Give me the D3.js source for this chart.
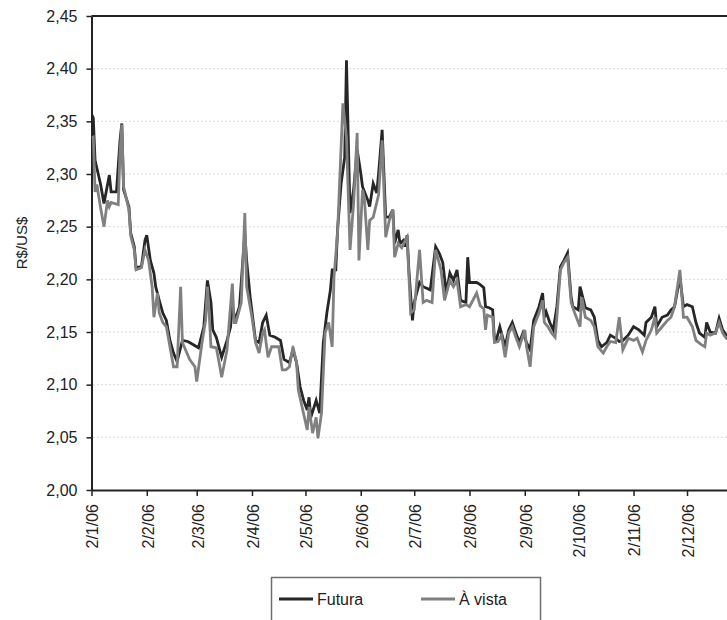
<!DOCTYPE html>
<html><head><meta charset="utf-8">
<script src="https://cdn.jsdelivr.net/npm/d3@7"></script>
<style>body{margin:0;background:#fff}svg{display:block}text{font-family:"Liberation Sans",Arial,sans-serif;fill:#222}</style>
</head><body><svg id="c" width="727" height="620"></svg>
<script>
const seriesNames = ["Futura", "À vista"];
const seriesColors = ["#262626", "#808080"];

const futuraDates = ["2006-01-02","2006-01-03","2006-01-04","2006-01-07","2006-01-09","2006-01-12","2006-01-13","2006-01-16","2006-01-18","2006-01-19","2006-01-20","2006-01-23","2006-01-24","2006-01-26","2006-01-27","2006-01-30",
"2006-02-01","2006-02-02","2006-02-04","2006-02-06","2006-02-07","2006-02-09","2006-02-11","2006-02-13","2006-02-15","2006-02-17","2006-02-19","2006-02-22","2006-02-25","2006-02-26",
"2006-03-03","2006-03-06","2006-03-08","2006-03-10","2006-03-11","2006-03-13","2006-03-16","2006-03-19","2006-03-21","2006-03-22","2006-03-23","2006-03-24","2006-03-26","2006-03-29","2006-03-30",
"2006-04-01","2006-04-04","2006-04-06","2006-04-08","2006-04-10","2006-04-12","2006-04-15","2006-04-18","2006-04-20","2006-04-23","2006-04-25","2006-04-27","2006-04-29",
"2006-05-01","2006-05-03","2006-05-04","2006-05-05","2006-05-08","2006-05-10","2006-05-12","2006-05-14","2006-05-16","2006-05-17","2006-05-19","2006-05-20","2006-05-22","2006-05-24","2006-05-25","2006-05-27","2006-05-29","2006-05-31",
"2006-06-02","2006-06-03","2006-06-06","2006-06-07","2006-06-09","2006-06-11","2006-06-12","2006-06-14","2006-06-16","2006-06-18","2006-06-20","2006-06-21","2006-06-23","2006-06-24","2006-06-26","2006-06-27","2006-06-28","2006-06-29",
"2006-07-01","2006-07-02","2006-07-05","2006-07-07","2006-07-11","2006-07-14","2006-07-16","2006-07-18","2006-07-20","2006-07-22","2006-07-24","2006-07-26","2006-07-28","2006-07-31",
"2006-08-01","2006-08-02","2006-08-06","2006-08-08","2006-08-10","2006-08-11","2006-08-13","2006-08-15","2006-08-16","2006-08-17","2006-08-19","2006-08-22","2006-08-24","2006-08-26","2006-08-28","2006-08-30",
"2006-09-01","2006-09-03","2006-09-05","2006-09-07","2006-09-10","2006-09-12","2006-09-13","2006-09-14","2006-09-16","2006-09-18","2006-09-20","2006-09-22","2006-09-24","2006-09-26","2006-09-28","2006-09-29",
"2006-10-02","2006-10-03","2006-10-06","2006-10-09","2006-10-11","2006-10-13","2006-10-15","2006-10-18","2006-10-20","2006-10-23","2006-10-25","2006-10-27","2006-10-30",
"2006-11-02","2006-11-05","2006-11-08","2006-11-09","2006-11-12","2006-11-14","2006-11-15","2006-11-18","2006-11-21","2006-11-23","2006-11-25","2006-11-28","2006-11-30",
"2006-12-02","2006-12-05","2006-12-07","2006-12-09","2006-12-12","2006-12-13","2006-12-15","2006-12-18","2006-12-20","2006-12-22","2006-12-24","2006-12-27"];
const futuraValues = [2.357,2.353,2.313,2.291,2.272,2.299,2.283,2.283,2.332,2.348,2.285,2.269,2.244,2.231,2.211,2.212,
2.237,2.242,2.218,2.206,2.193,2.180,2.168,2.161,2.142,2.130,2.122,2.142,2.141,2.140,
2.135,2.155,2.199,2.178,2.152,2.145,2.126,2.142,2.155,2.175,2.166,2.164,2.174,2.244,2.218,
2.183,2.142,2.140,2.159,2.166,2.147,2.145,2.142,2.124,2.121,2.133,2.121,2.098,
2.085,2.076,2.088,2.069,2.085,2.073,2.140,2.168,2.190,2.209,2.209,2.247,2.291,2.316,2.408,2.263,2.285,2.323,
2.301,2.288,2.275,2.269,2.291,2.282,2.300,2.342,2.259,2.259,2.266,2.234,2.247,2.234,2.237,2.231,2.242,2.209,
2.161,2.178,2.197,2.193,2.190,2.231,2.225,2.216,2.187,2.206,2.199,2.209,2.180,2.178,
2.221,2.197,2.197,2.195,2.192,2.174,2.173,2.171,2.142,2.142,2.155,2.136,2.152,2.159,2.149,2.140,
2.149,2.140,2.133,2.161,2.174,2.187,2.164,2.169,2.159,2.152,2.174,2.212,2.218,2.225,2.183,2.174,
2.171,2.193,2.173,2.171,2.164,2.142,2.136,2.140,2.147,2.144,2.141,2.142,2.147,
2.155,2.152,2.147,2.159,2.164,2.174,2.155,2.164,2.166,2.171,2.174,2.202,2.174,
2.176,2.174,2.159,2.149,2.145,2.159,2.150,2.149,2.163,2.152,2.147,2.146];

const vistaDates = ["2006-01-02","2006-01-03","2006-01-04","2006-01-05","2006-01-07","2006-01-09","2006-01-11","2006-01-12","2006-01-13","2006-01-17","2006-01-18","2006-01-19","2006-01-20","2006-01-23","2006-01-24","2006-01-26","2006-01-27","2006-01-30",
"2006-02-01","2006-02-03","2006-02-05","2006-02-06","2006-02-08","2006-02-09","2006-02-11","2006-02-13","2006-02-15","2006-02-17","2006-02-19","2006-02-21","2006-02-22","2006-02-26",
"2006-03-01","2006-03-02","2006-03-05","2006-03-07","2006-03-08","2006-03-09","2006-03-10","2006-03-13","2006-03-15","2006-03-16","2006-03-19","2006-03-22","2006-03-23","2006-03-24","2006-03-27","2006-03-29","2006-03-30",
"2006-04-02","2006-04-04","2006-04-06","2006-04-08","2006-04-09","2006-04-11","2006-04-13","2006-04-17","2006-04-19","2006-04-21","2006-04-23","2006-04-25","2006-04-27","2006-04-28",
"2006-05-03","2006-05-04","2006-05-06","2006-05-08","2006-05-09","2006-05-11","2006-05-13","2006-05-15","2006-05-17","2006-05-18","2006-05-20","2006-05-21","2006-05-23","2006-05-25","2006-05-27","2006-05-29","2006-05-31",
"2006-06-01","2006-06-03","2006-06-04","2006-06-06","2006-06-07","2006-06-09","2006-06-12","2006-06-14","2006-06-16","2006-06-18","2006-06-20","2006-06-21","2006-06-23","2006-06-25","2006-06-27","2006-06-28","2006-06-30",
"2006-07-02","2006-07-05","2006-07-07","2006-07-09","2006-07-12","2006-07-14","2006-07-17","2006-07-19","2006-07-22","2006-07-24","2006-07-26","2006-07-28","2006-07-31",
"2006-08-02","2006-08-06","2006-08-08","2006-08-10","2006-08-11","2006-08-12","2006-08-15","2006-08-16","2006-08-18","2006-08-20","2006-08-22","2006-08-24","2006-08-26","2006-08-28","2006-08-30",
"2006-09-02","2006-09-03","2006-09-05","2006-09-07","2006-09-10","2006-09-12","2006-09-13","2006-09-15","2006-09-17","2006-09-19","2006-09-20","2006-09-22","2006-09-24","2006-09-26","2006-09-28","2006-09-30",
"2006-10-03","2006-10-04","2006-10-06","2006-10-09","2006-10-11","2006-10-13","2006-10-16","2006-10-18","2006-10-20","2006-10-23","2006-10-25","2006-10-27","2006-10-30",
"2006-11-02","2006-11-04","2006-11-07","2006-11-09","2006-11-12","2006-11-14","2006-11-15","2006-11-18","2006-11-21","2006-11-23","2006-11-25","2006-11-28","2006-11-30",
"2006-12-02","2006-12-05","2006-12-07","2006-12-10","2006-12-12","2006-12-13","2006-12-15","2006-12-18","2006-12-20","2006-12-22","2006-12-24","2006-12-27"];
const vistaValues = [2.334,2.335,2.283,2.290,2.269,2.250,2.275,2.269,2.273,2.271,2.320,2.347,2.288,2.266,2.241,2.228,2.209,2.211,
2.228,2.218,2.193,2.164,2.187,2.168,2.159,2.155,2.136,2.117,2.117,2.193,2.140,2.124,
2.117,2.103,2.140,2.161,2.193,2.168,2.136,2.135,2.117,2.107,2.133,2.196,2.159,2.159,2.178,2.263,2.193,
2.164,2.140,2.130,2.149,2.152,2.126,2.136,2.136,2.114,2.114,2.117,2.136,2.121,2.095,
2.057,2.079,2.054,2.069,2.049,2.073,2.149,2.159,2.136,2.202,2.244,2.285,2.367,2.335,2.228,2.272,2.339,
2.218,2.285,2.278,2.228,2.256,2.259,2.280,2.332,2.240,2.256,2.266,2.221,2.234,2.230,2.237,2.240,2.168,
2.171,2.228,2.178,2.180,2.178,2.228,2.209,2.180,2.199,2.193,2.199,2.174,2.176,
2.174,2.187,2.175,2.172,2.152,2.166,2.164,2.140,2.141,2.147,2.126,2.149,2.155,2.145,2.136,
2.152,2.136,2.117,2.155,2.168,2.180,2.159,2.155,2.149,2.145,2.164,2.209,2.216,2.221,2.178,2.168,
2.155,2.183,2.164,2.161,2.155,2.136,2.130,2.136,2.141,2.140,2.164,2.133,2.144,
2.142,2.144,2.131,2.142,2.152,2.164,2.149,2.155,2.161,2.164,2.174,2.209,2.164,
2.164,2.155,2.142,2.138,2.136,2.149,2.147,2.149,2.159,2.149,2.144,2.143];

const yTicks = [2.00, 2.05, 2.10, 2.15, 2.20, 2.25, 2.30, 2.35, 2.40, 2.45];
const xTickDates = ["2006-01-02","2006-02-02","2006-03-02","2006-04-02","2006-05-02","2006-06-02","2006-07-02","2006-08-02","2006-09-02","2006-10-02","2006-11-02","2006-12-02"];
const yAxisTitle = "R$/US$";

const W = 727, H = 620, L = 91.5, T = 16, B = 490;
const parse = d3.timeParse("%Y-%m-%d");
const x = d3.scaleTime().domain([parse("2006-01-02"), parse("2007-01-02")]).range([L, L + 365 * 1.783]);
const y = d3.scaleLinear().domain([2.00, 2.45]).range([B, T]);
const svg = d3.select("#c");

svg.append("defs").append("clipPath").attr("id", "pc")
  .append("rect").attr("x", L).attr("y", 0).attr("width", W - L).attr("height", B + 4);

// gridlines
svg.append("g").selectAll("line").data(yTicks.filter(v => v > 2.001 && v < 2.449)).join("line")
  .attr("x1", L + 2).attr("x2", W).attr("y1", d => y(d)).attr("y2", d => y(d))
  .attr("stroke", "#b8b8b8").attr("stroke-width", 1).attr("stroke-dasharray", "1,3");

// top border
svg.append("line").attr("x1", L).attr("x2", W).attr("y1", T).attr("y2", T)
  .attr("stroke", "#222").attr("stroke-width", 2);

const fmtY = d => d3.format(".2f")(d).replace(".", ",");
const yAxis = svg.append("g").attr("transform", `translate(${L},0)`)
  .call(d3.axisLeft(y).tickValues(yTicks).tickFormat(fmtY).tickSize(5).tickSizeOuter(0).tickPadding(9));
yAxis.selectAll("text").attr("font-size", 16).attr("fill", "#222");
yAxis.select(".domain").attr("stroke", "#222").attr("stroke-width", 2);
yAxis.selectAll(".tick line").attr("stroke", "#222").attr("stroke-width", 1.5);

const fmtX = d => `${d.getDate()}/${d.getMonth() + 1}/${String(d.getFullYear() % 100).padStart(2, "0")}`;
const xAxis = svg.append("g").attr("transform", `translate(0,${B})`)
  .call(d3.axisBottom(x).tickValues(xTickDates.map(parse)).tickFormat(fmtX).tickSize(6).tickSizeOuter(0));
xAxis.select(".domain").attr("stroke", "#222").attr("stroke-width", 2);
xAxis.selectAll(".tick line").attr("stroke", "#222").attr("stroke-width", 1.5);
xAxis.selectAll("text").attr("font-size", 16).attr("fill", "#222")
  .attr("transform", "rotate(-90)").attr("text-anchor", "end")
  .attr("x", -14).attr("y", 0).attr("dy", "0.4em");

// y title
svg.append("text").attr("transform", "translate(27,243) rotate(-90)")
  .attr("text-anchor", "middle").attr("font-size", 15).text(yAxisTitle);

// lines
const series = [
  futuraDates.map((d, i) => ({date: parse(d), v: futuraValues[i]})),
  vistaDates.map((d, i) => ({date: parse(d), v: vistaValues[i]}))
];
const line = d3.line().x(d => x(d.date)).y(d => y(d.v));
const lg = svg.append("g").attr("clip-path", "url(#pc)");
series.forEach((s, i) => {
  lg.append("path").datum(s).attr("d", line).attr("fill", "none")
    .attr("stroke", seriesColors[i]).attr("stroke-width", 2.8).attr("stroke-linejoin", "miter").attr("stroke-miterlimit", 4);
});

// legend
const leg = svg.append("g");
leg.append("rect").attr("x", 271.5).attr("y", 577.5).attr("width", 269).attr("height", 60)
  .attr("fill", "#fff").attr("stroke", "#6e6e6e").attr("stroke-width", 1.5);
const legPos = [279, 421];
seriesNames.forEach((n, i) => {
  leg.append("line").attr("x1", legPos[i]).attr("x2", legPos[i] + 34).attr("y1", 599).attr("y2", 599)
    .attr("stroke", seriesColors[i]).attr("stroke-width", 3);
  leg.append("text").attr("x", legPos[i] + 38).attr("y", 605).attr("font-size", 16).text(n);
});
</script></body></html>
